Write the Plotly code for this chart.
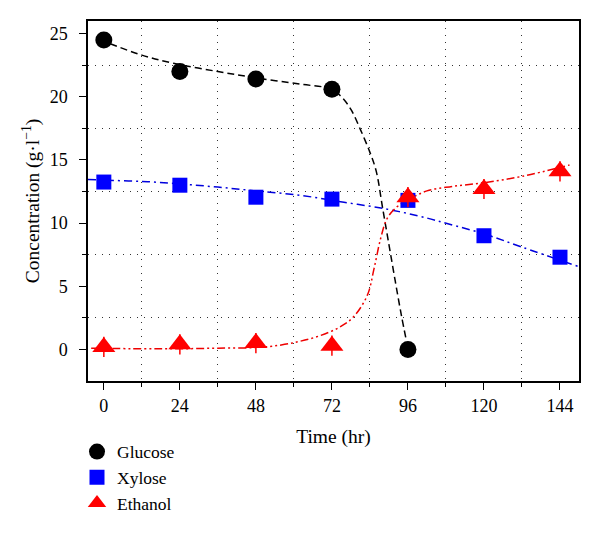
import plotly.graph_objects as go

# Measured data
time_h = [0, 24, 48, 72, 96, 120, 144]
glucose_t = [0, 24, 48, 72, 96]
glucose = [24.5, 22.0, 21.4, 20.6, 0.0]
xylose = [13.25, 13.0, 12.05, 11.9, 11.8, 9.0, 7.3]
ethanol = [0.2, 0.4, 0.5, 0.3, 12.05, 12.7, 14.1]
ethanol_err = [0.8, 0.8, 0.8, 0.8, 0.8, 0.8, 0.8]

# Fitted curves
glucose_fit_t = [2, 12, 22, 36, 48, 62, 72, 75, 78, 81, 84, 86, 88, 90, 92, 94, 95.5]
glucose_fit = [24.2, 23.3, 22.65, 22.0, 21.5, 21.0, 20.6, 20.0, 19.0, 17.4, 15.6, 14.1, 11.2, 8.3, 5.4, 2.6, 0.7]
xylose_fit_t = [-5, 0, 12, 24, 36, 48, 62, 75.8, 89.5, 102, 108.6, 120, 132, 150]
xylose_fit = [13.45, 13.4, 13.3, 13.1, 12.85, 12.55, 12.2, 11.65, 11.1, 10.4, 9.95, 9.15, 8.1, 6.55]
ethanol_fit_t = [-4, 12, 24, 36, 48, 56, 62, 68.4, 74.7, 78.9, 83.2, 85.3, 87.4, 89.5, 92.6, 95.8, 102, 110, 120, 132, 147]
ethanol_fit = [0.1, 0.05, 0.05, 0.1, 0.15, 0.35, 0.65, 1.1, 1.8, 2.6, 4.3, 6.4, 8.8, 10.4, 11.3, 11.8, 12.55, 12.9, 13.2, 13.7, 14.6]

x_ticks = [0, 24, 48, 72, 96, 120, 144]
x_minor = [12, 36, 60, 84, 108, 132]
y_ticks = [0, 5, 10, 15, 20, 25]
y_minor = [2.5, 7.5, 12.5, 17.5, 22.5]

FONT = "Liberation Serif"

fig = go.Figure()
fig.add_trace(go.Scatter(x=glucose_fit_t, y=glucose_fit, mode="lines", line_shape="spline",
                         line=dict(color="black", width=1.5, dash="7px,4px"), showlegend=False, hoverinfo="skip"))
fig.add_trace(go.Scatter(x=xylose_fit_t, y=xylose_fit, mode="lines", line_shape="spline",
                         line=dict(color="#0000dd", width=1.5, dash="8px,4px,2px,4px"), showlegend=False, hoverinfo="skip"))
fig.add_trace(go.Scatter(x=ethanol_fit_t, y=ethanol_fit, mode="lines", line_shape="spline",
                         line=dict(color="#ee0000", width=1.5, dash="8px,3px,2px,3px,2px,3px"), showlegend=False, hoverinfo="skip"))

fig.add_trace(go.Scatter(x=glucose_t, y=glucose, mode="markers", name="Glucose",
                         marker=dict(symbol="circle", size=17, color="black")))
fig.add_trace(go.Scatter(x=time_h, y=xylose, mode="markers", name="Xylose",
                         marker=dict(symbol="square", size=15, color="#0000ff")))
fig.add_trace(go.Scatter(x=time_h, y=ethanol, mode="markers", name="Ethanol",
                         marker=dict(symbol="triangle-up", size=20, color="#ff0000"),
                         error_y=dict(type="data", array=ethanol_err, visible=True, color="#ff0000", thickness=1.5, width=0)))

axis_common = dict(showline=True, linecolor="black", linewidth=1.5, mirror=True,
                   ticks="outside", ticklen=7, tickwidth=1.3, tickcolor="black",
                   showgrid=False, zeroline=False,
                   tickfont=dict(family=FONT, size=18, color="black"))

minor_common = dict(tickmode="array", ticks="outside", ticklen=4, tickwidth=1.3,
                    tickcolor="black", showgrid=True, gridcolor="#333333", gridwidth=1.3,
                    griddash="1.3px,5.7px")

fig.update_xaxes(range=[-5, 150], tickmode="array", tickvals=x_ticks, ticktext=[str(v) for v in x_ticks],
                 ticklabelstandoff=1,
                 title=dict(text="Time (hr)", font=dict(family=FONT, size=19.5, color="black"), standoff=14),
                 minor=dict(tickvals=x_minor, **minor_common),
                 **axis_common)
fig.update_yaxes(range=[-2.5, 26], tickmode="array", tickvals=y_ticks, ticktext=[str(v) for v in y_ticks],
                 ticklabelstandoff=8,
                 title=dict(text="Concentration (g·l<sup>−1</sup>)", font=dict(family=FONT, size=19.5, color="black"), standoff=5),
                 minor=dict(tickvals=y_minor, **minor_common),
                 **axis_common)

fig.update_layout(width=592, height=545, margin=dict(l=80, r=21, t=13, b=172, pad=0),
                  paper_bgcolor="white", plot_bgcolor="white",
                  font=dict(family=FONT, size=18, color="black"),
                  legend=dict(x=-0.0224, y=-0.1463, xanchor="left", yanchor="top", orientation="v",
                              font=dict(family=FONT, size=17.5, color="black"), bgcolor="rgba(0,0,0,0)",
                              tracegroupgap=0, itemsizing="trace"))

fig.write_html("out.html")
